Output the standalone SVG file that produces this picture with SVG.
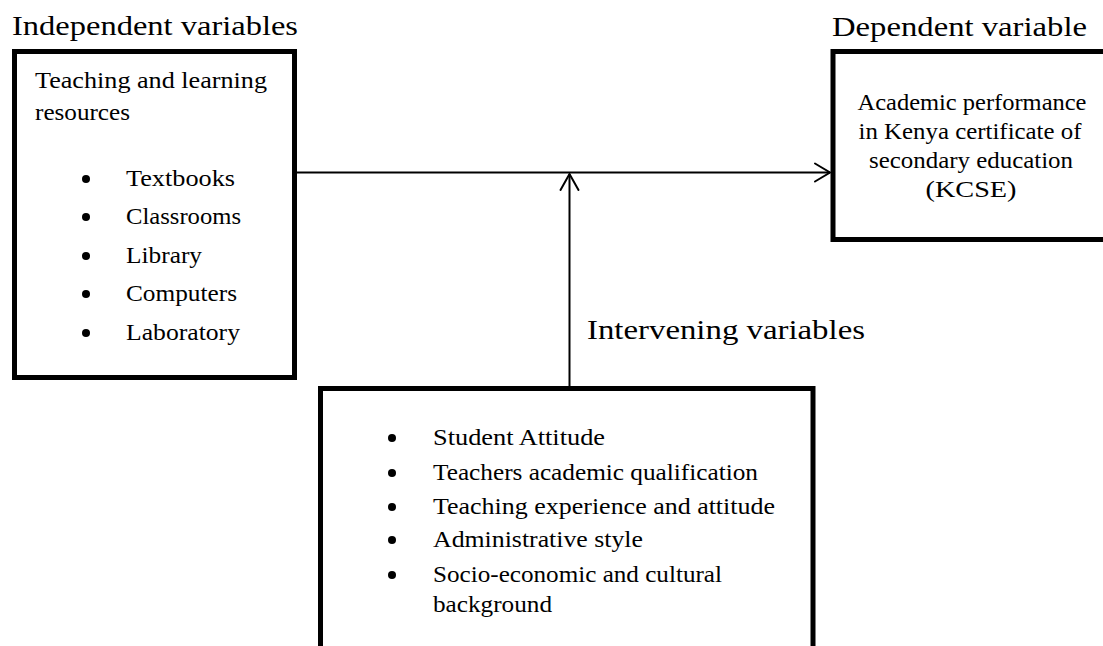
<svg xmlns="http://www.w3.org/2000/svg" width="1103" height="646" viewBox="0 0 1103 646">
  <style>
    .box { fill: #fff; stroke: #000; stroke-width: 5; stroke-linejoin: miter; }
    .head { font-family: "Liberation Serif", "DejaVu Serif", serif; font-size: 28px; fill: #000; }
    .body { font-family: "Liberation Serif", "DejaVu Serif", serif; font-size: 23px; fill: #000; }
    .mid { text-anchor: middle; }
    .dot { fill: #000; }
    .wire { fill: none; stroke: #000; stroke-width: 2; }
    .tip { fill: none; stroke: #000; stroke-width: 2; stroke-linecap: round; stroke-linejoin: miter; }
  </style>
  <rect width="1103" height="646" fill="#fff"/>

  <!-- Section headings -->
  <text class="head" x="12" y="35" textLength="286" lengthAdjust="spacingAndGlyphs">Independent variables</text>
  <text class="head" x="832" y="36" textLength="255" lengthAdjust="spacingAndGlyphs">Dependent variable</text>
  <text class="head" x="587" y="339" textLength="278" lengthAdjust="spacingAndGlyphs">Intervening variables</text>

  <!-- Independent variables box -->
  <g id="independent">
    <rect class="box" x="14.5" y="51.5" width="280" height="326"/>
    <text class="body" x="35" y="88" textLength="232" lengthAdjust="spacingAndGlyphs">Teaching and learning</text>
    <text class="body" x="35" y="120" textLength="95" lengthAdjust="spacingAndGlyphs">resources</text>
    <circle class="dot" cx="86" cy="179" r="4"/>
    <text class="body" x="126" y="186" textLength="109" lengthAdjust="spacingAndGlyphs">Textbooks</text>
    <circle class="dot" cx="86" cy="217" r="4"/>
    <text class="body" x="126" y="224" textLength="115" lengthAdjust="spacingAndGlyphs">Classrooms</text>
    <circle class="dot" cx="86" cy="256" r="4"/>
    <text class="body" x="126" y="263" textLength="76" lengthAdjust="spacingAndGlyphs">Library</text>
    <circle class="dot" cx="86" cy="294" r="4"/>
    <text class="body" x="126" y="301" textLength="111" lengthAdjust="spacingAndGlyphs">Computers</text>
    <circle class="dot" cx="86" cy="333" r="4"/>
    <text class="body" x="126" y="340" textLength="114" lengthAdjust="spacingAndGlyphs">Laboratory</text>
  </g>

  <!-- Dependent variable box (runs past the right edge) -->
  <g id="dependent">
    <rect class="box" x="833" y="51.5" width="290" height="188"/>
    <text class="body mid" x="972" y="110" textLength="229" lengthAdjust="spacingAndGlyphs">Academic performance</text>
    <text class="body mid" x="970" y="139" textLength="223" lengthAdjust="spacingAndGlyphs">in Kenya certificate of</text>
    <text class="body mid" x="971" y="168" textLength="204" lengthAdjust="spacingAndGlyphs">secondary education</text>
    <text class="body mid" x="971" y="197" textLength="91" lengthAdjust="spacingAndGlyphs">(KCSE)</text>
  </g>

  <!-- Intervening variables box (runs past the bottom edge) -->
  <g id="intervening">
    <rect class="box" x="320.5" y="388.5" width="492.5" height="300"/>
    <circle class="dot" cx="392" cy="438" r="4"/>
    <text class="body" x="433" y="445" textLength="172" lengthAdjust="spacingAndGlyphs">Student Attitude</text>
    <circle class="dot" cx="392" cy="473" r="4"/>
    <text class="body" x="433" y="480" textLength="325" lengthAdjust="spacingAndGlyphs">Teachers academic qualification</text>
    <circle class="dot" cx="392" cy="507" r="4"/>
    <text class="body" x="433" y="514" textLength="342" lengthAdjust="spacingAndGlyphs">Teaching experience and attitude</text>
    <circle class="dot" cx="392" cy="540" r="4"/>
    <text class="body" x="433" y="547" textLength="210" lengthAdjust="spacingAndGlyphs">Administrative style</text>
    <circle class="dot" cx="392" cy="575" r="4"/>
    <text class="body" x="433" y="582" textLength="289" lengthAdjust="spacingAndGlyphs">Socio-economic and cultural</text>
    <text class="body" x="433" y="612" textLength="119" lengthAdjust="spacingAndGlyphs">background</text>
  </g>

  <!-- Connectors -->
  <g id="connectors">
    <line class="wire" x1="297" y1="172.5" x2="830" y2="172.5"/>
    <polyline class="tip" points="815,163.5 830,172.5 815,181.5"/>
    <line class="wire" x1="569.5" y1="386" x2="569.5" y2="174"/>
    <polyline class="tip" points="560.5,190 569.5,174 578.5,190"/>
  </g>
</svg>
